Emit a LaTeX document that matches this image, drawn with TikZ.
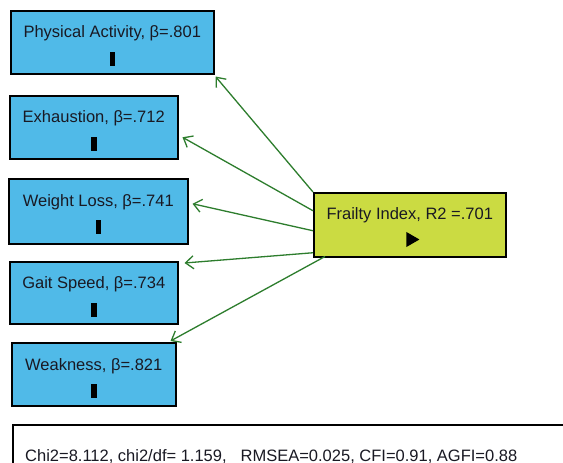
\documentclass[tikz,border=0pt]{standalone}
\usepackage{fontspec}
\setmainfont{Liberation Sans}
\usetikzlibrary{arrows.meta,shapes.geometric}
\definecolor{boxblue}{RGB}{80,186,232}
\definecolor{boxlime}{RGB}{203,219,66}
\definecolor{arrowgreen}{RGB}{45,125,45}
\definecolor{textdark}{RGB}{25,25,35}
\begin{document}
\begin{tikzpicture}[x=1pt,y=-1pt,
  bluebox/.style={draw=black, line width=1.5pt, fill=boxblue, rectangle, inner sep=0pt, anchor=north west},
  limebox/.style={draw=black, line width=1.5pt, fill=boxlime, rectangle, inner sep=0pt, anchor=north west},
  lbl/.style={inner sep=0pt, anchor=base, text=textdark, font=\fontsize{16.5}{18}\selectfont},
  barmark/.style={fill=black, draw=none, rectangle, inner sep=0pt, minimum width=5.5pt, minimum height=14pt},
  trimark/.style={fill=black, draw=none, isosceles triangle, isosceles triangle apex angle=60, inner sep=0pt, minimum height=13pt, minimum width=13pt},
  path arrow/.style={draw=arrowgreen, line width=1.3pt, -{Straight Barb[length=8pt,width=13pt,line width=1.3pt]}}
]
\useasboundingbox (0,0) rectangle (563,463);
\clip (0,0) rectangle (563,463);
\fill[white] (0,0) rectangle (563,463);

% indicator boxes
\node[bluebox, minimum width=203pt, minimum height=63pt] (pa) at (10,10) {};
\node[lbl] (paT) at ([yshift=-27pt]pa.north) {Physical Activity, β=.801};
\node[barmark] (paM) at ([yshift=-48.5pt]pa.north) {};

\node[bluebox, minimum width=168pt, minimum height=63pt] (ex) at (9,95) {};
\node[lbl] (exT) at ([yshift=-27pt]ex.north) {Exhaustion, β=.712};
\node[barmark] (exM) at ([yshift=-48.5pt]ex.north) {};

\node[bluebox, minimum width=179pt, minimum height=65pt] (wl) at (8,178) {};
\node[lbl] (wlT) at ([yshift=-28pt]wl.north) {Weight Loss, β=.741};
\node[barmark] (wlM) at ([yshift=-48.5pt]wl.north) {};

\node[bluebox, minimum width=168pt, minimum height=62pt] (gs) at (9,261) {};
\node[lbl] (gsT) at ([yshift=-27pt]gs.north) {Gait Speed, β=.734};
\node[barmark] (gsM) at ([yshift=-48.5pt]gs.north) {};

\node[bluebox, minimum width=164pt, minimum height=63pt] (wk) at (11,342) {};
\node[lbl] (wkT) at ([yshift=-28pt]wk.north) {Weakness, β=.821};
\node[barmark] (wkM) at ([yshift=-48.5pt]wk.north) {};

% latent factor
\node[limebox, minimum width=192pt, minimum height=64pt] (fi) at (313,192) {};
\node[lbl] (fiT) at ([yshift=-27pt]fi.north) {Frailty Index, R2 =.701};
\node[trimark] (fiM) at ([xshift=1pt,yshift=-47.5pt]fi.north) {};

% loadings
\draw[path arrow] (fi.north west) -- ([xshift=1pt,yshift=-2pt]pa.south east);
\draw[path arrow] ([yshift=14pt]fi.west) -- ([xshift=4pt,yshift=-10pt]ex.east);
\draw[path arrow] ([yshift=-6pt]fi.west) -- ([xshift=4pt,yshift=7.5pt]wl.east);
\draw[path arrow] ([yshift=-28pt]fi.west) -- ([xshift=6pt,yshift=-2pt]gs.north east);
\draw[path arrow] ([xshift=12pt,yshift=1pt]fi.south west) -- ([xshift=-6pt,yshift=1pt]wk.north east);

% fit statistics box
\node[draw=black, line width=1.5pt, fill=white, rectangle, inner sep=0pt, anchor=north west, minimum width=570pt, minimum height=60pt] (fit) at (12,424) {};
\node[lbl, anchor=base west] (fitT) at (25,461) {Chi2=8.112, chi2/df=\ 1.159,\hspace{14pt}RMSEA=0.025, CFI=0.91, AGFI=0.88};
\end{tikzpicture}
\end{document}
